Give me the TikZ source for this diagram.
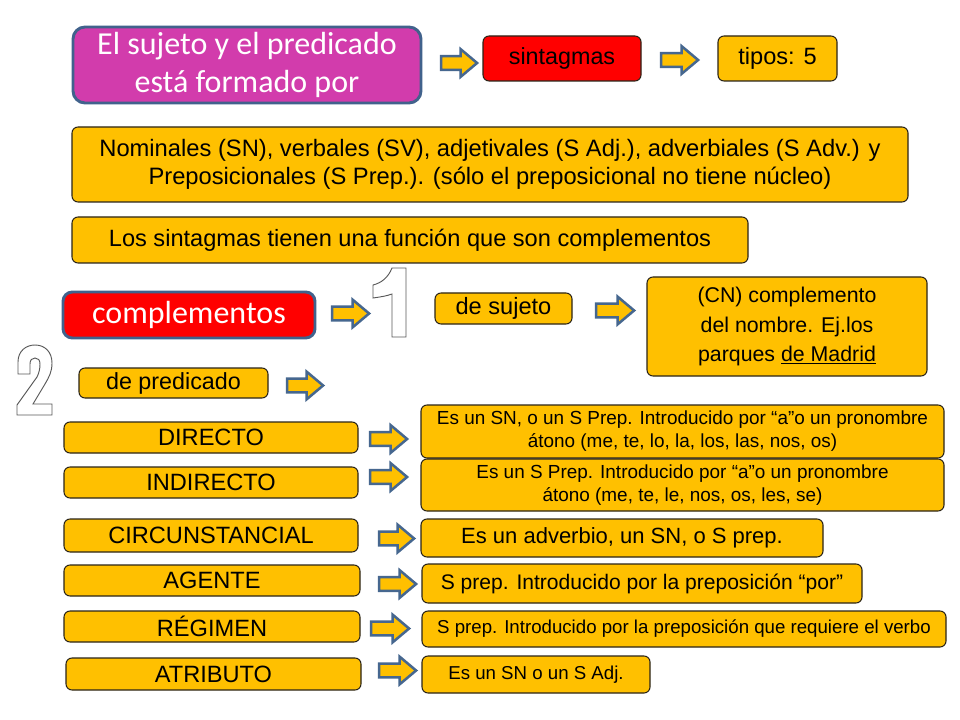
\documentclass[tikz,border=0pt]{standalone}
\usepackage{fontspec}
\setmainfont{Liberation Sans}
\newfontfamily\calfont{Carlito}
\usetikzlibrary{shapes.arrows}
\definecolor{gold}{HTML}{FFC000}
\definecolor{magbox}{HTML}{D23CAC}
\definecolor{steel}{HTML}{41628C}
\definecolor{arrowedge}{HTML}{46678F}
\definecolor{edgedark}{HTML}{2A2418}
\tikzset{
  base/.style={rectangle, inner sep=0pt, align=center, rounded corners=4.5pt},
  obox/.style={base, fill=gold, draw=edgedark, line width=0.8pt},
  redbox/.style={base, fill=red, draw=edgedark, line width=0.8pt},
  magstyle/.style={base, fill=magbox, draw=steel, line width=2.2pt, rounded corners=9pt,
    text=white, font=\calfont\fontsize{24}{28.5}\selectfont},
  compstyle/.style={base, fill=red, draw=steel, line width=2.2pt, rounded corners=7pt,
    text=white, font=\calfont\fontsize{24}{28.5}\selectfont},
  barrow/.style={single arrow, draw=arrowedge, fill=gold, line width=1.9pt,
    inner xsep=0pt, inner ysep=4.2pt, single arrow head extend=5.2pt,
    single arrow tip angle=80, minimum width=0pt},
  numeral/.style={draw=black!65, fill=white, line width=0.7pt},
  fA/.style={font=\fontsize{17.7}{21}\selectfont},
  fB/.style={font=\fontsize{14.2}{17.2}\selectfont},
}
\newcommand\bx[7]{\node[#6, minimum width={(#4-#2)*0.75pt}, minimum height={(#5-#3)*0.75pt}] (#1) at ({(#2+#4)/2},{(#3+#5)/2}) {#7};}
\newcommand\ar[5]{\node[barrow, minimum height={(#4-#2)*0.75pt}] (#1) at ({(#2+#4)/2},{(#3+#5)/2}) {};}
\begin{document}
\begin{tikzpicture}[x=0.75pt,y=-0.75pt]
\useasboundingbox (0,0) rectangle (960,720);
\fill[white] (0,0) rectangle (960,720);

% top row
\bx{head}{73}{27}{421}{103}{magstyle}{El sujeto y el predicado\\está formado por}
\ar{a1}{437}{51}{473}{75}
\bx{sint}{483}{36}{641}{81}{redbox,font=\fontsize{17.5}{21}\selectfont}{sintagmas}
\ar{a2}{657}{48}{694}{72}
\bx{tipos}{718}{36}{837}{81}{obox,fA}{tipos: 5}

% explanation boxes
\bx{nom}{72}{127}{908}{202}{obox,font=\fontsize{17.8}{20.5}\selectfont}{Nominales (SN), verbales (SV), adjetivales (S Adj.), adverbiales (S Adv.) y\\Preposicionales (S Prep.). (sólo el preposicional no tiene núcleo)}
\bx{los}{72}{217}{748}{263}{obox,fA}{Los sintagmas tienen una función que son complementos}

% complementos
\bx{comp}{63}{292}{315}{338}{compstyle}{complementos}
\ar{a3}{328}{302}{365}{325}
\bx{suj}{435}{293}{572}{324}{obox,fA}{de sujeto}
\ar{a4}{592}{297}{630}{324}
\bx{cn}{647}{277}{927}{376}{obox,font=\fontsize{16}{21.9}\selectfont}{(CN) complemento\\del nombre. Ej.los\\parques \underline{de Madrid}}
\bx{pred}{79}{368}{268}{398}{obox,font=\fontsize{17.5}{21}\selectfont}{de predicado}
\ar{a5}{283}{372}{319}{399}

% numerals
\draw[numeral] (392,268) -- (406,268) -- (406,337) -- (392,337) -- (392,294)
  .. controls (387,296) and (380,297) .. (373,298) -- (373,285)
  .. controls (381,283) and (388,278) .. (392,268) -- cycle;
\draw[numeral] (18,374) -- (18,362) .. controls (18,351) and (26,345) .. (35,345)
  .. controls (45,345) and (52,352) .. (52,363) .. controls (52,372) and (49,377) .. (45,384)
  -- (33,404) -- (52,404) -- (52,415) -- (17,415) -- (17,405) -- (37,377)
  .. controls (39,373) and (40,369) .. (40,364) .. controls (40,360) and (38,358) .. (35,358)
  .. controls (32,358) and (30,360) .. (30,364) -- (30,374) -- cycle;

% complement types
\bx{dir}{64}{422}{358}{453}{obox,fA}{DIRECTO}
\ar{a6}{366}{425}{403}{453}
\bx{rdir}{421}{405}{944}{458}{obox,fB}{Es un SN, o un S Prep. Introducido por “a”o un pronombre\\átono (me, te, lo, la, los, las, nos, os)}

\bx{ind}{64}{467}{358}{498}{obox,fA}{INDIRECTO}
\ar{a7}{366}{463}{403}{491}
\bx{rind}{421}{459}{944}{511}{obox,fB}{Es un S Prep. Introducido por “a”o un pronombre\\átono (me, te, le, nos, os, les, se)}

\bx{cir}{64}{519}{358}{552}{obox,fA}{CIRCUNSTANCIAL}
\ar{a8}{375}{525}{410}{552}
\bx{rcir}{421}{519}{823}{557}{obox,font=\fontsize{16.5}{20}\selectfont}{Es un adverbio, un SN, o S prep.}

\bx{age}{64}{565}{360}{596}{obox,fA}{AGENTE}
\ar{a9}{375}{571}{412}{597}
\bx{rage}{422}{564}{862}{603}{obox,font=\fontsize{15.8}{19}\selectfont}{S prep. Introducido por la preposición “por”}

\bx{reg}{64}{611}{360}{642}{obox,fA}{RÉGIMEN}
\ar{a10}{367}{615}{405}{642}
\bx{rreg}{422}{611}{946}{647}{obox,font=\fontsize{14}{17}\selectfont}{S prep. Introducido por la preposición que requiere el verbo}

\bx{atr}{66}{658}{361}{690}{obox,fA}{ATRIBUTO}
\ar{a11}{375}{657}{412}{684}
\bx{ratr}{422}{656}{650}{693}{obox,font=\fontsize{14}{17}\selectfont}{Es un SN o un S Adj.}
\end{tikzpicture}
\end{document}
